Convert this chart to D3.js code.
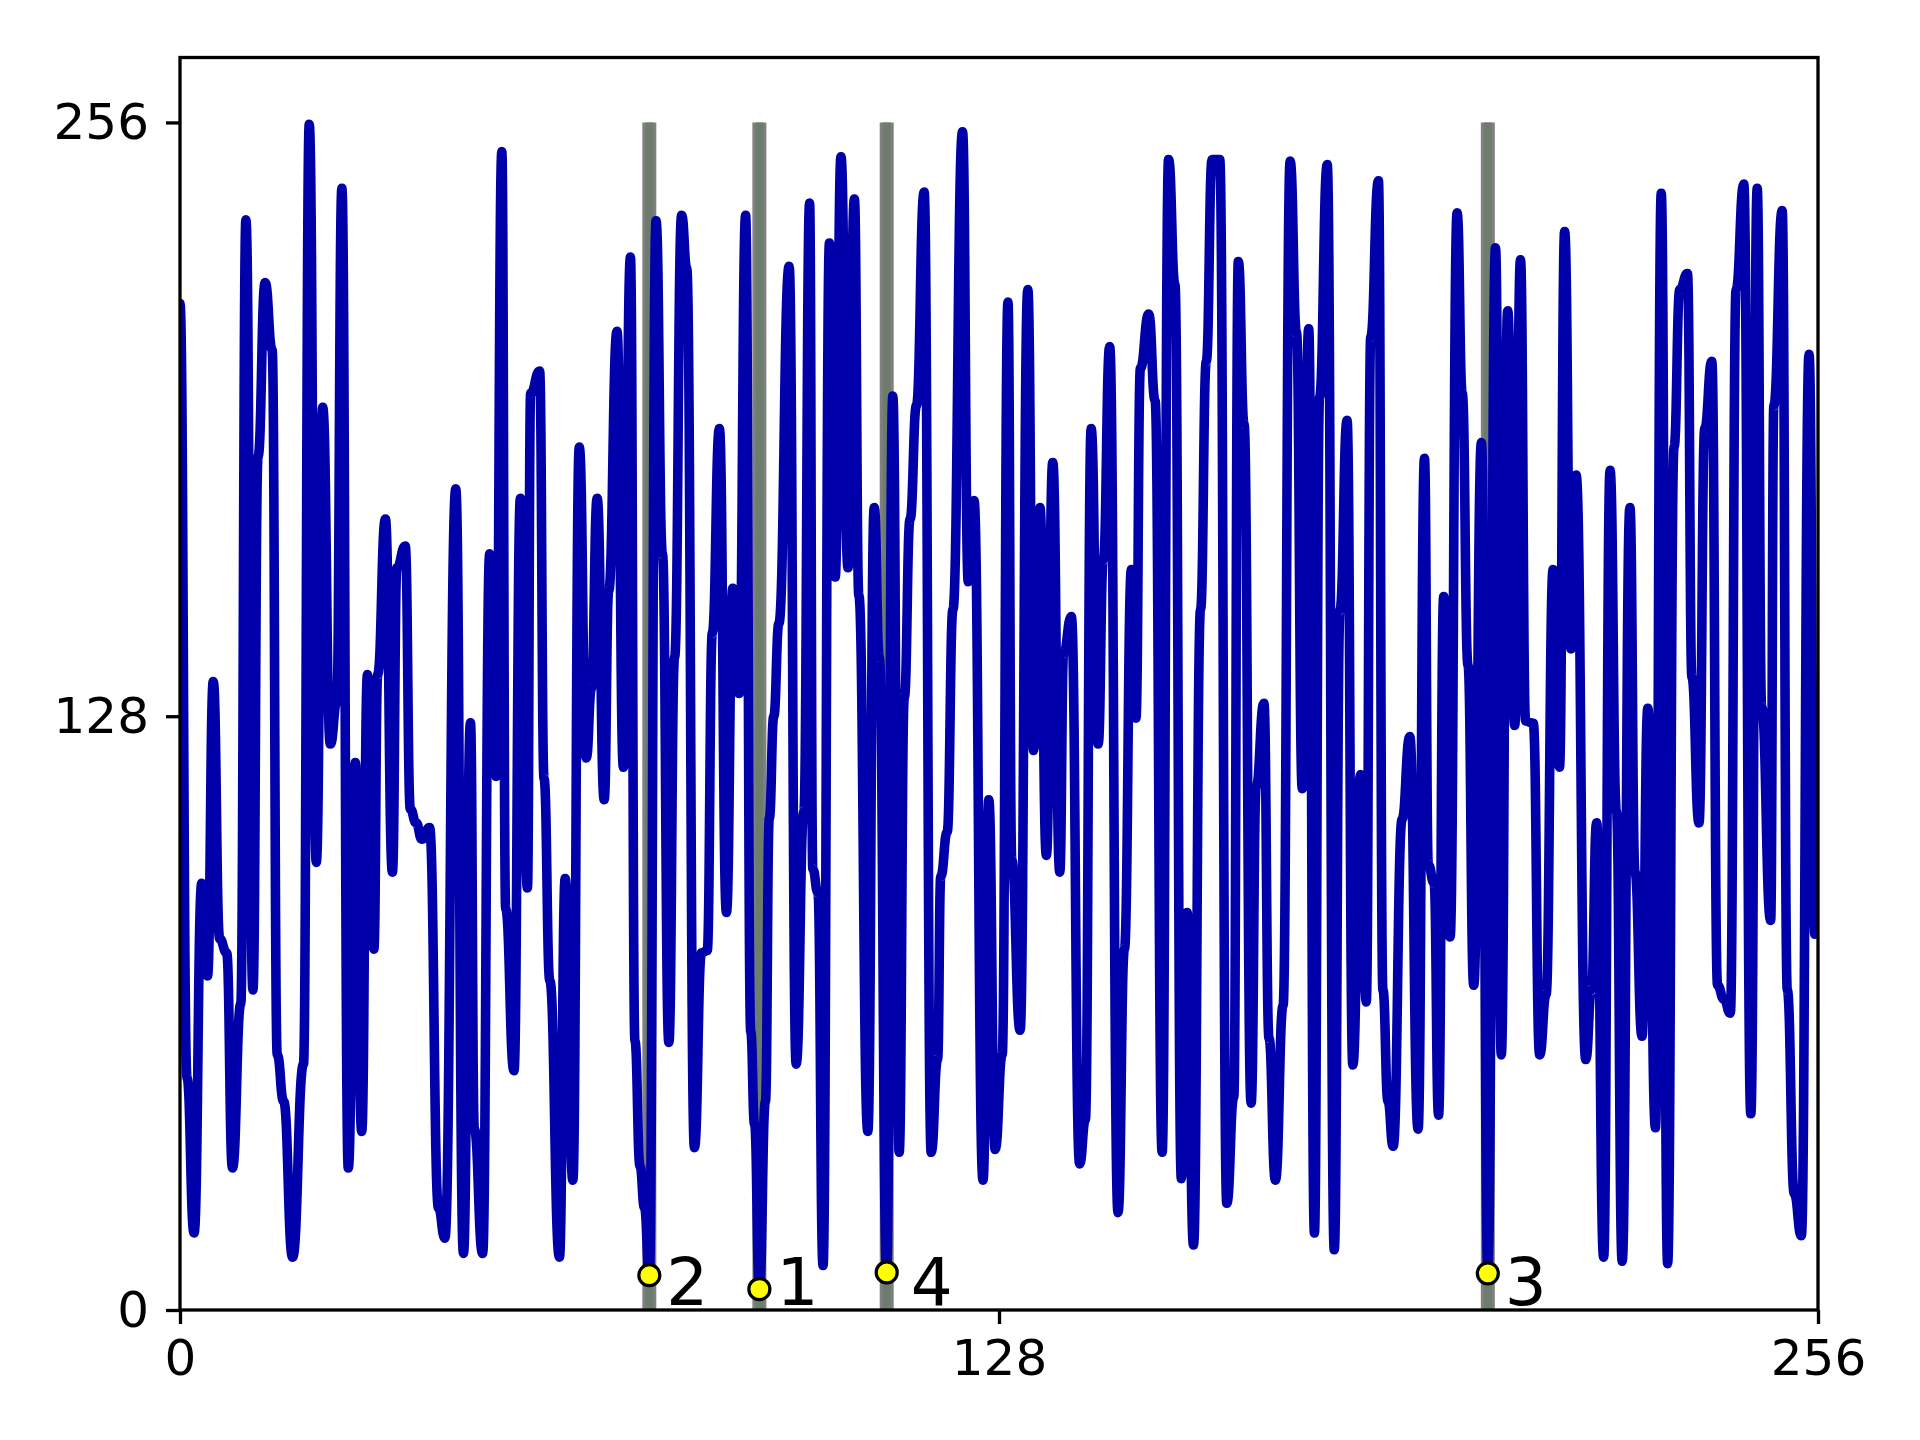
<!DOCTYPE html>
<html>
<head>
<meta charset="utf-8">
<script src="https://cdn.jsdelivr.net/npm/d3@7"></script>
<style>
  html, body { margin: 0; padding: 0; background: #ffffff; }
  svg { display: block; }
  text { font-family: "DejaVu Sans", sans-serif; }
</style>
</head>
<body>
<svg id="chart" width="1920" height="1440"></svg>
<script>
// ---- data ----
const sampleX = [
  0,1.1,2.2,3.4,4.3,5.2,6.2,7.3,8.2,9.5,10.3,11.4,12.2,13.3,14.4,15.2,16.2,17.6,19.3,20.2,
  21.3,22.3,23.5,24.5,25.3,26.3,27.4,28.4,29.3,30.3,30.9,32.1,
  33.2,33.9,35.2,36.0,36.9,37.8,39.0,40.4,41.4,43.1,44.3,45.4,46.0,47.3,48.4,49.4,50.3,50.9,
  52.2,53.2,54.3,54.8,56.2,56.9,57.8,59.3,60.2,61.4,62.4,63.5,64.3,65.2,
  66.3,67.0,68.3,69.3,70.4,71.1,71.9,72.6,73.35,74.4,75.4,76.4,77.3,78.4,79.2,80.4,81.5,82.4,
  83.2,84.3,85.4,86.4,87.4,88.4,89.2,89.8,90.55,91.5,92.1,92.8,93.6,95.2,96.3,
  97.5,98.4,98.9,99.7,100.5,101.5,102.4,103.3,104.4,105.4,106.1,107.5,108.5,109.3,110.45,111.4,
  112.4,113.2,114.1,115.1,116.3,117.4,118.4,118.9,119.9,120.8,122.3,123.2,124.1,125.5,126.4,127.4,128.5,
  129.4,130.0,131.3,132.5,133.4,134.4,135.4,136.4,137.5,138.1,139.3,140.6,141.5,142.4,143.5,144.3,
  145.3,146.6,147.6,148.7,149.4,150.1,151.4,152.4,153.5,154.5,155.5,156.5,157.4,158.4,159.5,160.4,161.3,162.5,
  163.6,164.7,165.4,166.3,167.4,168.2,169.4,170.2,171.2,172.4,173.5,174.5,175.4,176.4,177.3,178.1,
  179.3,180.4,181.3,182.4,183.3,184.5,185.4,186.1,187.3,188.0,188.8,189.6,191.0,192.2,
  193.5,194.5,195.1,196.0,196.7,197.5,198.5,199.6,200.4,201.3,202.2,203.4,204.4,205.6,206.5,207.5,
  208.6,209.5,210.3,211.5,212.5,213.5,214.6,215.6,216.4,217.4,218.2,219.7,220.6,221.4,222.5,223.5,224.5,
  225.4,226.6,227.4,228.5,229.4,230.6,231.5,232.5,233.5,234.4,235.6,236.3,237.4,238.3,239.4,240.3,
  241.3,242.3,243.2,244.4,245.5,246.5,247.2,248.6,249.1,250.4,251.2,252.3,253.4,254.6,255.5,256
];
const sampleY = [
  217,50,16.6,92,72,135.5,80,77,30.6,66,235,69,184,221.5,207,55,45,11.4,53,255.6,
  96.5,194.6,122,131,241.8,30.6,118,38.5,137,77.8,137,170.5,
  94.4,160,164.7,108,105,101.5,104,22,15.5,177,12.2,126.6,39,12.2,163,115,249.7,86.5,
  51.6,175,91,197.6,202.4,114.5,71,11.4,93,28,186,119,134,175,
  110,155,211,117,227,58,31,22,7.5,234.8,163,57.7,140.7,236,224.6,35,77,77.5,
  146,190,85.7,155.6,132.9,236,60,40,4.5,45,106,128,148,225,53,
  107.5,238.6,95,90,9.6,230,158,248.6,160,239.5,154,38.5,173,140.7,8,197,
  34,132,170.5,195,241,34,54,93.5,103,151,254,157,174.5,28,110,34.6,55,
  217.3,97,60.3,220,120.6,173,98,182.7,94.4,141.6,149.5,31.5,41,190,122,161.7,
  207.7,21,77.8,159.6,127.6,203,214.7,196,34,248,221,28.3,85.7,14,151,204.5,248,248,
  23,46,226,191,44.6,112.8,130.8,58.6,28,65.6,247.7,210.7,112.4,211.5,16.6,196.7,
  246.9,13,151,191.8,52.8,115.4,66.4,209.8,243.4,69,45,35.3,105.8,123.6,
  39,183.6,96,92,42,153.8,80.4,236.5,197.6,139,70,187,8,229,55,215.4,
  126,226.4,127,126.5,55,68,159.6,117,232.5,142.5,180,54,69,105,11.4,181,107.5,
  10.5,173,94.4,59,129.7,39.3,240.7,10,186,220,223.4,136.4,105,190,204.5,70,
  67,64,220,242.7,42.3,241.8,130,84,195,237,69,25,16,206,81,121
];
// ranked minima
const minRank = ["1", "2", "3", "4"];
const minX = [90.55, 73.35, 204.4, 110.45];
const minY = [4.5, 7.5, 7.9, 8.1];
// axis ticks
const xTicks = [0, 128, 256];
const yTicks = [0, 128, 256];
const xDomain = [0, 256];
const yDomain = [0, 270];
const guideTop = 256;

// ---- layout ----
const svg = d3.select("#chart");
const L = 180, R = 1818, T = 57.5, B = 1310;
const labelShift = { "1": 17, "2": 17, "3": 17, "4": 24 };

svg.append("rect").attr("x", 0).attr("y", 0).attr("width", 1920).attr("height", 1440).attr("fill", "#ffffff");

const x = d3.scaleLinear().domain(xDomain).range([L, R]);
const y = d3.scaleLinear().domain(yDomain).range([B, T]);

svg.append("clipPath").attr("id", "plotclip")
  .append("rect").attr("x", L).attr("y", T).attr("width", R - L).attr("height", B - T);

const plot = svg.append("g").attr("clip-path", "url(#plotclip)");

// guide lines at minima
const guides = plot.append("g");
minX.forEach((mx) => {
  guides.append("line")
    .attr("x1", x(mx)).attr("x2", x(mx))
    .attr("y1", y(0)).attr("y2", y(guideTop))
    .attr("stroke", "#808080").attr("stroke-width", 14);
  guides.append("line")
    .attr("x1", x(mx)).attr("x2", x(mx))
    .attr("y1", y(0)).attr("y2", y(guideTop))
    .attr("stroke", "#6d7d6d").attr("stroke-width", 8);
});

// main curve
const pts = sampleX.map((d, i) => [d, sampleY[i]]);
const line = d3.line().x(d => x(d[0])).y(d => y(d[1])).curve(d3.curveBumpX);
plot.append("path")
  .attr("d", line(pts))
  .attr("fill", "none")
  .attr("stroke", "#0000aa")
  .attr("stroke-width", 9.6)
  .attr("stroke-linejoin", "round")
  .attr("stroke-linecap", "butt");

// markers
const mk = svg.append("g");
minX.forEach((mx, i) => {
  mk.append("circle")
    .attr("cx", x(mx)).attr("cy", y(minY[i])).attr("r", 10.5)
    .attr("fill", "#ffff00").attr("stroke", "#000000").attr("stroke-width", 3.2);
  mk.append("text")
    .attr("x", x(mx) + labelShift[minRank[i]]).attr("y", y(0) - 5)
    .attr("font-size", 66).attr("fill", "#000000")
    .text(minRank[i]);
});

// axes
const xAxis = d3.axisBottom(x).tickValues(xTicks).tickSize(14).tickPadding(15).tickFormat(d3.format("d"));
const yAxis = d3.axisLeft(y).tickValues(yTicks).tickSize(14).tickPadding(17).tickFormat(d3.format("d"));

const gx = svg.append("g").attr("transform", `translate(0,${B})`).call(xAxis);
const gy = svg.append("g").attr("transform", `translate(${L},0)`).call(yAxis);
[gx, gy].forEach(g => {
  g.select(".domain").remove();
  g.selectAll(".tick line").attr("stroke", "#000").attr("stroke-width", 3.3);
  g.selectAll(".tick text").attr("font-size", 50).attr("fill", "#000")
    .attr("font-family", "DejaVu Sans, sans-serif");
});

// frame
svg.append("rect")
  .attr("x", L).attr("y", T).attr("width", R - L).attr("height", B - T)
  .attr("fill", "none").attr("stroke", "#000").attr("stroke-width", 3.3);
</script>
</body>
</html>
